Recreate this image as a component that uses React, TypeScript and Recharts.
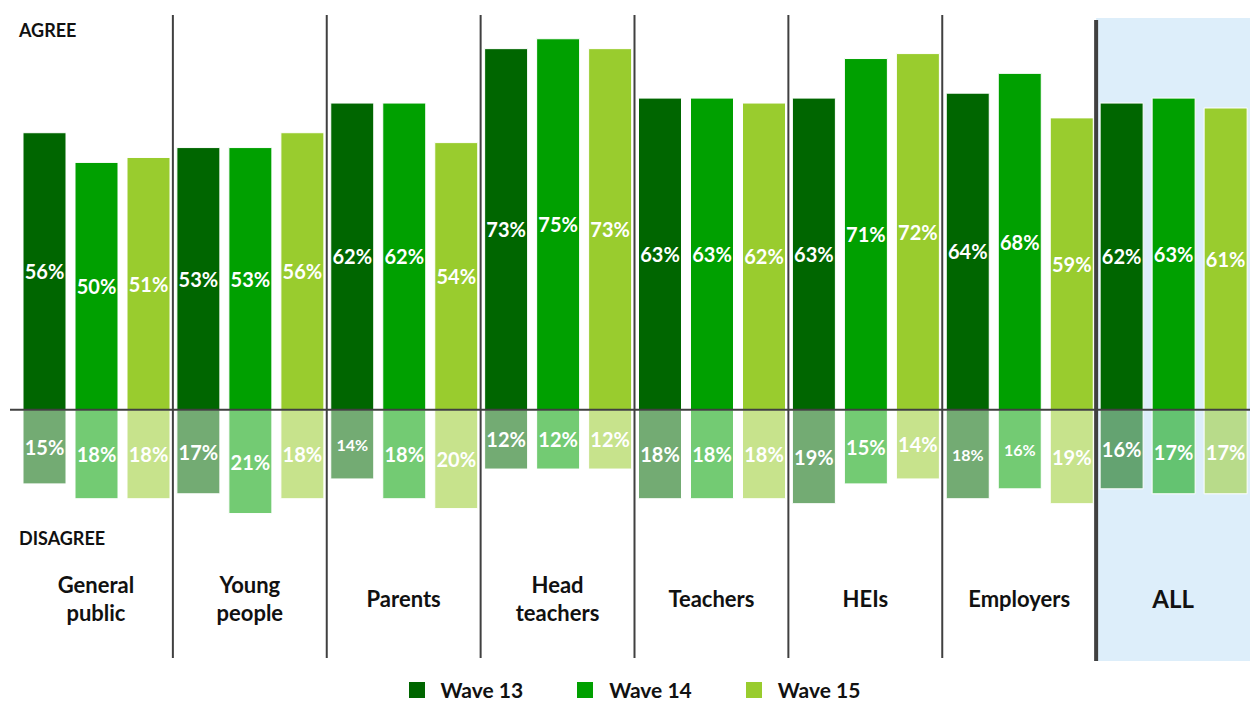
import { BarChart, Bar, XAxis, YAxis, ReferenceLine, ReferenceArea, LabelList, Legend, Customized } from 'recharts';

const categories = ['General public', 'Young people', 'Parents', 'Head teachers', 'Teachers', 'HEIs', 'Employers', 'ALL'];
const agree13 = [56, 53, 62, 73, 63, 63, 64, 62];
const agree14 = [50, 53, 62, 75, 63, 71, 68, 63];
const agree15 = [51, 56, 54, 73, 62, 72, 59, 61];
const disagree13 = [15, 17, 14, 12, 18, 19, 18, 16];
const disagree14 = [18, 21, 18, 12, 18, 15, 16, 17];
const disagree15 = [18, 18, 20, 12, 18, 14, 19, 17];
const waves = ['Wave 13', 'Wave 14', 'Wave 15'];

const COLORS = ['#006600', '#00a000', '#99cc2e'];
const FONT = 'Lato, "Open Sans", sans-serif';

const data = categories.map((cat, i) => ({
  cat,
  a13: agree13[i],
  d13: -disagree13[i],
  a14: agree14[i],
  d14: -disagree14[i],
  a15: agree15[i],
  d15: -disagree15[i],
}));

// a few of the disagree labels are set smaller in the original
const smallLabels = new Set(['d13-2', 'd13-6', 'd14-6']);

const makeLabel = (key: string) => (props: any) => {
  const { x, y, width, height, value, index } = props;
  const small = smallLabels.has(`${key}-${index}`);
  return (
    <text
      x={x + width / 2}
      y={y + height / 2}
      textAnchor="middle"
      dominantBaseline="central"
      fill="#fff"
      fontFamily={FONT}
      fontWeight={700}
      fontSize={small ? 16 : 20}
    >
      {Math.abs(value)}%
    </text>
  );
};

const CategoryTick = (props: any) => {
  const { x, y, payload } = props;
  const isAll = payload.value === 'ALL';
  const lines = String(payload.value).split(' ');
  const centerY = y - 59;
  const start = centerY - ((lines.length - 1) * 28) / 2;
  return (
    <text
      x={x}
      textAnchor="middle"
      fontFamily={FONT}
      fontWeight={700}
      fontSize={isAll ? 24 : 22}
      fill="#111"
    >
      {lines.map((l, i) => (
        <tspan key={i} x={x} y={start + i * 28} dominantBaseline="central">
          {l}
        </tspan>
      ))}
    </text>
  );
};

const LegendContent = () => (
  <div style={{ display: 'flex', justifyContent: 'center', gap: 54, fontFamily: FONT, fontWeight: 700, fontSize: 21, lineHeight: '22px', height: 22, color: '#111' }}>
    {waves.map((w, i) => (
      <div key={w} style={{ display: 'flex', alignItems: 'center', gap: 16 }}>
        <span style={{ width: 16, height: 16, background: COLORS[i], display: 'inline-block' }} />
        <span>{w}</span>
      </div>
    ))}
  </div>
);

const Separator = (props: any) => {
  const { x1, y1, y2 } = props;
  return <line x1={x1} x2={x1} y1={y1 + 1} y2={y2 - 1} stroke="#404040" strokeWidth={2} />;
};

const Baseline = (props: any) => {
  const { x1, x2, y1 } = props;
  return <line x1={x1 - 9} x2={x2} y1={y1} y2={y1} stroke="#404040" strokeWidth={2} />;
};

const AllArea = (props: any) => {
  const { x, y, width, height } = props;
  return (
    <g>
      <rect x={x} y={y + 4} width={width} height={height} fill="#ddeefa" />
      <line x1={x} x2={x} y1={y + 6} y2={y + height + 4} stroke="#404040" strokeWidth={4} />
    </g>
  );
};

const SideLabels = () => (
  <g fontFamily={FONT} fontWeight={700} fontSize={18} fill="#111">
    <text x={19} y={37}>AGREE</text>
    <text x={19} y={545}>DISAGREE</text>
  </g>
);

export default function App() {
  const keys: [string, string, number][] = [
    ['a13', 'd13', 0],
    ['a14', 'd14', 1],
    ['a15', 'd15', 2],
  ];
  return (
    <div style={{ width: 1250, height: 702 }}>
      <style>{'body{margin:0}'}</style>
      <BarChart
        width={1250}
        height={702}
        data={data}
        margin={{ top: 16, right: 0, left: 19, bottom: 22 }}
        stackOffset="sign"
        barCategoryGap={4}
        barGap={9}
      >
        <ReferenceArea x1="ALL" x2="ALL" y1={-50} y2={80} shape={AllArea} ifOverflow="visible" />
        <XAxis dataKey="cat" axisLine={false} tickLine={false} tickSize={0} tickMargin={0} height={1} tick={CategoryTick} interval={0} />
        <YAxis hide domain={[-50, 79.6]} allowDataOverflow />
        {keys.map(([a, d, i]) => [
          <Bar key={a} dataKey={a} stackId={a} fill={COLORS[i]} stroke="#fff" strokeWidth={1} isAnimationActive={false}>
            <LabelList dataKey={a} content={makeLabel(a)} />
          </Bar>,
          <Bar key={d} dataKey={d} stackId={a} fill={COLORS[i]} fillOpacity={0.55} stroke="#fff" strokeWidth={1} isAnimationActive={false}>
            <LabelList dataKey={d} content={makeLabel(d)} />
          </Bar>,
        ])}
        {categories.slice(1, 7).map((c) => (
          <ReferenceLine key={c} x={c} position="start" shape={Separator} />
        ))}
        <ReferenceLine y={0} shape={Baseline} />
        <Legend verticalAlign="bottom" content={LegendContent} wrapperStyle={{ top: 679, bottom: 'auto' }} />
        <Customized component={SideLabels} />
      </BarChart>
    </div>
  );
}
